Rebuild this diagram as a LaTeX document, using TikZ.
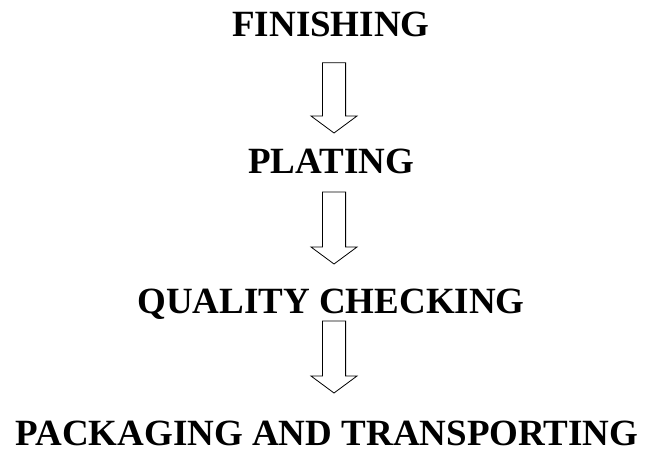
\documentclass[tikz,border=0pt]{standalone}
\usepackage{fontspec}
\setmainfont{Liberation Serif}
\usetikzlibrary{calc}
\tikzset{
  stage/.style={anchor=base, inner sep=0pt, font=\fontsize{37}{40}\selectfont\bfseries},
  blockline/.style={draw, line width=0.8pt, line join=miter}
}
% hollow down arrow from #1 (top of shaft) to #2 (tip)
\newcommand{\blockarrow}[2]{%
  \draw[blockline] ($(#1)+(-11.6,0)$) -- ($(#1)+(11.6,0)$) -- ($(#2)+(11.6,-17)$) -- ($(#2)+(23,-17)$) -- (#2) -- ($(#2)+(-23,-17)$) -- ($(#2)+(-11.6,-17)$) -- cycle;}
\begin{document}
\begin{tikzpicture}[x=1pt,y=-1pt]
\useasboundingbox (0,0) rectangle (646,453);
\node[stage] (finishing) at (331,36) {FINISHING};
\node[stage] (plating) at (331,173) {PLATING};
\node[stage] (quality) at (331,313) {QUALITY CHECKING};
\node[stage] (packaging) at (327,445) {PACKAGING AND TRANSPORTING};
\coordinate (from1) at (334,62.7);
\coordinate (to1) at (334,133);
\coordinate (from2) at (334,192);
\coordinate (to2) at (334,264);
\coordinate (from3) at (334,321);
\coordinate (to3) at (334,393);
\blockarrow{from1}{to1}
\blockarrow{from2}{to2}
\blockarrow{from3}{to3}
\end{tikzpicture}
\end{document}
